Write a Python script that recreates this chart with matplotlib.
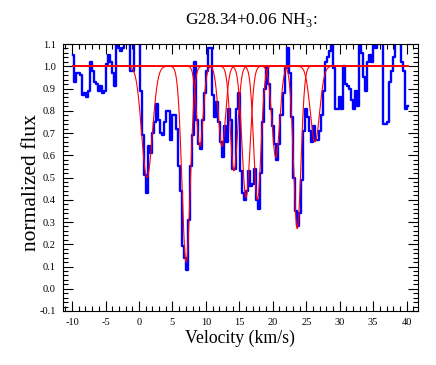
import numpy as np
import matplotlib
matplotlib.use("Agg")
import matplotlib.pyplot as plt
from matplotlib.ticker import MultipleLocator, FormatStrFormatter

plt.rcParams['font.family'] = ['Liberation Serif', 'DejaVu Serif']
plt.rcParams['mathtext.fontset'] = 'custom'
plt.rcParams['mathtext.rm'] = 'Liberation Serif'
plt.rcParams['axes.unicode_minus'] = False

# channel grid of the spectrum (km/s)
v_start = -9.9
dv = 0.3

# normalized flux per channel
flux_a = [1.05, 0.93, 0.97, 0.97, 0.96, 0.87, 0.88, 0.86, 0.89, 1.02,
          0.98, 0.93, 0.92, 0.89, 0.91, 0.88, 0.89, 1.01, 1.05, 1.02,
          0.97, 0.91, 1.12, 1.08, 1.07, 1.08, 1.12, 1.12, 1.12, 0.98,
          0.98, 1.12, 1.12, 1.12]
flux_b = [0.89, 0.69, 0.51, 0.43, 0.64, 0.61, 0.70, 0.75, 0.83, 0.76,
          0.70, 0.69, 0.75, 0.80, 0.80, 0.67, 0.78, 0.78, 0.72, 0.55,
          0.44, 0.19, 0.14, 0.085, 0.31, 0.55, 0.69, 1.02, 0.76, 0.65,
          0.63, 0.76, 0.88, 0.98]
flux_c = [1.08, 1.08, 0.87, 0.77, 0.84, 0.75, 0.66, 0.59, 0.73, 0.66,
          0.81, 0.76, 0.54, 0.54, 0.81, 0.88, 0.53, 0.43, 0.40, 0.44,
          0.53, 0.46, 0.47, 0.54, 0.40, 0.36, 0.52, 0.75, 0.90, 0.99,
          0.92, 0.81, 0.73, 0.65, 0.58, 0.65, 0.78, 0.88, 0.99]
flux_d = [1.08, 0.97, 0.77, 0.50, 0.35, 0.28, 0.34, 0.49, 0.71, 0.81,
          0.77, 0.71, 0.66, 0.73, 0.67, 0.67, 0.71, 0.78, 0.89, 1.02,
          1.04, 1.07, 1.12, 0.99, 0.81, 0.81, 0.86, 0.81, 1.00, 0.92,
          0.91, 0.90, 0.85, 0.81, 0.89, 0.82]
flux_e = [1.12, 1.06, 0.95, 0.89, 1.02, 1.05, 1.02, 1.12, 1.08, 1.12,
          1.12, 1.12, 0.74, 0.74, 0.75, 0.93, 0.98, 1.04, 1.12, 1.12,
          1.12, 1.02, 0.98, 0.81, 0.82]

# fitted hyperfine components: centre (km/s), depth, sigma (km/s)
comp_v = [1.2, 7.05, 9.1, 12.4, 14.2, 16.0, 17.7, 20.45, 23.65, 26.3]
comp_depth = [0.50, 0.88, 0.36, 0.36, 0.47, 0.59, 0.60, 0.41, 0.73, 0.34]
comp_sigma = [0.8, 0.62, 0.5, 0.55, 0.55, 0.6, 0.55, 0.58, 0.55, 0.7]

flux = np.array(flux_a + flux_b + flux_c + flux_d + flux_e)
vel = v_start + dv * np.arange(len(flux))

fig = plt.figure(figsize=(4.36, 3.65), dpi=100)
ax = fig.add_axes([62.7 / 436, 1 - 311 / 365, (418 - 62.7) / 436, (311 - 44) / 365])

ax.step(vel, flux, where='mid', color='#0000ff', lw=1.7, zorder=2)

vfine = np.linspace(vel[0], vel[-1], 2000)
for v0, d, s in zip(comp_v, comp_depth, comp_sigma):
    ax.plot(vfine, 1 - d * np.exp(-0.5 * ((vfine - v0) / s) ** 2),
            color='#ff0000', lw=0.8, zorder=3)

ax.set_xlim(vel[0] - 1.5, vel[-1] + 1.5)
ax.set_ylim(-0.1, 1.1)

ax.xaxis.set_major_locator(MultipleLocator(5))
ax.xaxis.set_minor_locator(MultipleLocator(1))
ax.yaxis.set_major_locator(MultipleLocator(0.1))
ax.yaxis.set_minor_locator(MultipleLocator(0.02))
ax.yaxis.set_major_formatter(FormatStrFormatter('%.1f'))

ax.tick_params(which='both', direction='in', top=True, right=True,
               labelsize=7.5, width=0.8)
ax.tick_params(which='major', length=7, pad=5)
ax.tick_params(which='minor', length=3.5)
for sp in ax.spines.values():
    sp.set_linewidth(0.8)

fig.text(251 / 436, 1 - 24 / 365, 'G28.34+0.06 NH$_3$:', ha='center',
         va='baseline', fontsize=12.4)
fig.text(240 / 436, 1 - 343 / 365, 'Velocity (km/s)', ha='center',
         va='baseline', fontsize=12.8)
fig.text(31 / 436, 1 - 183 / 365, 'normalized flux', ha='center',
         va='center', rotation=90, fontsize=15.5)

fig.savefig('out.png', dpi=100)
